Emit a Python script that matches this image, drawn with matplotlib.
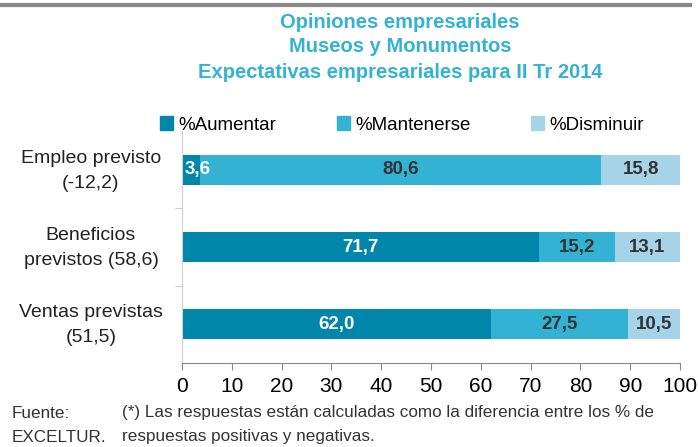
import numpy as np
import matplotlib
matplotlib.use("Agg")
import matplotlib.pyplot as plt
from matplotlib.lines import Line2D
from matplotlib.patches import Patch

plt.rcParams['font.family'] = ['Liberation Sans', 'DejaVu Sans']

categories = ["Empleo previsto\n(-12,2)", "Beneficios\nprevistos (58,6)", "Ventas previstas\n(51,5)"]
aumentar = [3.6, 71.7, 62.0]
mantenerse = [80.6, 15.2, 27.5]
disminuir = [15.8, 13.1, 10.5]
series_names = ["%Aumentar", "%Mantenerse", "%Disminuir"]
colors = ["#0086AA", "#33B2D3", "#A5D3E8"]
label_colors = ["white", "#333333", "#333333"]

fig = plt.figure(figsize=(6.98, 4.47), dpi=100)
ax = fig.add_axes([0.2607, 0.1879, 0.7135, 0.519])

y = np.arange(len(categories))
left = np.zeros(len(categories))
for vals, c, lc, name in zip([aumentar, mantenerse, disminuir], colors, label_colors, series_names):
    vals = np.array(vals)
    ax.barh(y, vals, left=left, height=0.39, color=c, label=name)
    for yi, l, v in zip(y, left, vals):
        txt = f"{v:.1f}".replace(".", ",")
        if v < 6:
            # segment too thin, start label just inside it
            ax.text(l + 0.5, yi, txt, ha="left", va="center",
                    color=lc, fontsize=13.5, fontweight="bold")
        else:
            ax.text(l + v / 2, yi, txt, ha="center", va="center",
                    color=lc, fontsize=13.5, fontweight="bold")
    left = left + vals

ax.set_xlim(0, 100)
ax.set_ylim(2.5, -0.5)
ax.set_xticks(np.arange(0, 101, 10))
ax.tick_params(axis="x", labelsize=15, length=5, color="#888888", pad=5)
ax.set_yticks([0.5, 1.5])
ax.set_yticklabels([])
ax.tick_params(axis="y", length=5, color="#cccccc")
for s in ["top", "right"]:
    ax.spines[s].set_visible(False)
ax.spines["left"].set_color("#d0d0d0")
ax.spines["bottom"].set_color("#888888")

for yi, cat in zip(y, categories):
    fig.text(91 / 698, 1 - (171 + 77 * yi) / 447, cat, ha="center", va="center",
             fontsize=14, color="#222222", linespacing=1.55)

title_lines = ["Opiniones empresariales", "Museos y Monumentos",
               "Expectativas empresariales para II Tr 2014"]
for ty, t in zip([22, 47, 73], title_lines):
    fig.text(0.573, 1 - ty / 447, t, ha="center", va="center",
             color="#33B2D3", fontsize=14.5, fontweight="bold")

handles = [Patch(color=c) for c in colors]
fig.legend(handles, series_names, loc="center", bbox_to_anchor=(0.576, 1 - 125 / 447),
           ncol=3, frameon=False, fontsize=13.5, handlelength=0.7, handleheight=0.7,
           handletextpad=0.3, columnspacing=3.2)

fig.add_artist(Line2D([0, 690 / 698], [1 - 5 / 447, 1 - 5 / 447], color="#888888", lw=3))

fig.text(12 / 698, 1 - 413 / 447, "Fuente:", ha="left", va="center", fontsize=12.3, color="#333333")
fig.text(12 / 698, 1 - 437 / 447, "EXCELTUR.", ha="left", va="center", fontsize=12.3, color="#333333")
fig.text(122 / 698, 1 - 413 / 447, "(*) Las respuestas están calculadas como la diferencia entre los % de",
         ha="left", va="center", fontsize=12.3, color="#333333")
fig.text(122 / 698, 1 - 437 / 447, "respuestas positivas y negativas.",
         ha="left", va="center", fontsize=12.3, color="#333333")

fig.savefig("out.png", dpi=100)
